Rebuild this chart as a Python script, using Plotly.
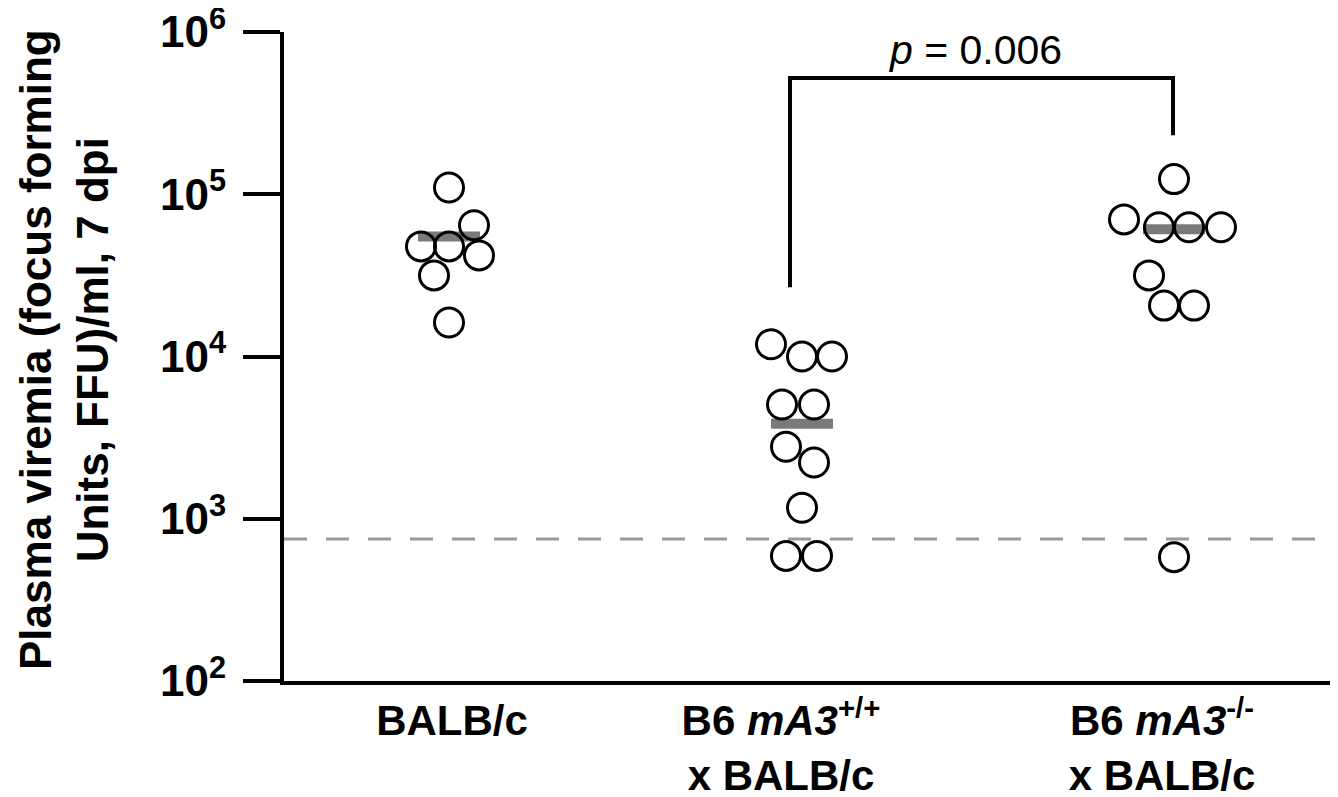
import plotly.graph_objects as go

# ---- data ----
groups = ["BALB/c", "B6 mA3+/+ x BALB/c", "B6 mA3-/- x BALB/c"]
tick_labels = [
    "BALB/c",
    "B6 <i>mA3</i><sup>+/+</sup><br>x BALB/c",
    "B6 <i>mA3</i><sup>-/-</sup><br>x BALB/c",
]
group_pos = [165, 518, 890]      # x position of each group's points (axis units)
label_pos = [168, 497, 878]      # x position of each group's label

balb_vals = [110000, 64400, 47700, 47700, 42000, 31600, 16200]
balb_jit = [0, 25, -28, 0, 30, -15, 0]

wt_vals = [11900, 10000, 10000, 5060, 5060, 2780, 2220, 1170, 590, 590]
wt_jit = [-31, 0, 30, -20, 12, -16, 12, 0, -16, 15]

ko_vals = [124000, 70000, 62600, 62600, 62600, 31600, 20600, 20600, 580]
ko_jit = [0, -50, -15, 15, 47, -25, -10, 20, 0]

medians = [55000, 3850, 60800]
detection_limit = 750

y_tickvals = [1e2, 1e3, 1e4, 1e5, 1e6]
y_ticktext = ["10<sup>2</sup>", "10<sup>3</sup>", "10<sup>4</sup>", "10<sup>5</sup>", "10<sup>6</sup>"]

p_text = "<i>p</i> = 0.006"
bracket_y_low_left = 26700
bracket_y_top = 520000
bracket_y_low_right = 231000

FONT = "Liberation Sans, Arial, Helvetica, sans-serif"

fig = go.Figure()

# detection limit dashed line
fig.add_trace(go.Scatter(
    x=[0, 1050], y=[detection_limit, detection_limit], mode="lines",
    line=dict(color="#9a9a9a", width=3, dash="23px,19px"),
    hoverinfo="skip", showlegend=False))

# median bars
half_w = 31
for gx, m in zip(group_pos, medians):
    fig.add_trace(go.Scatter(
        x=[gx - half_w, gx + half_w], y=[m, m], mode="lines",
        line=dict(color="#7a7a7a", width=10),
        hoverinfo="skip", showlegend=False))

# points
for gx, vals, jit in zip(group_pos, [balb_vals, wt_vals, ko_vals], [balb_jit, wt_jit, ko_jit]):
    fig.add_trace(go.Scatter(
        x=[gx + j for j in jit], y=vals, mode="markers",
        marker=dict(symbol="circle-open", size=29, color="black",
                    line=dict(width=3, color="black")),
        cliponaxis=False, showlegend=False))

# significance bracket
bx_left = group_pos[1] - 12
bx_right = group_pos[2] - 1
fig.add_trace(go.Scatter(
    x=[bx_left, bx_left, bx_right, bx_right],
    y=[bracket_y_low_left, bracket_y_top, bracket_y_top, bracket_y_low_right],
    mode="lines", line=dict(color="black", width=4),
    hoverinfo="skip", showlegend=False))

fig.add_annotation(
    x=(bx_left + bx_right) / 2 - 7, y=5.89, xref="x", yref="y",
    text=p_text, showarrow=False,
    font=dict(family=FONT, size=41, color="black"),
    xanchor="center", yanchor="middle")

# y-axis title
fig.add_annotation(
    xref="paper", yref="paper", x=0, y=0.51, xshift=-220,
    text="<b>Plasma viremia (focus forming<br>Units, FFU)/ml, 7 dpi</b>",
    textangle=-90, showarrow=False,
    font=dict(family=FONT, size=44, color="black"),
    xanchor="center", yanchor="middle")

fig.update_layout(
    width=1338, height=797,
    margin=dict(l=276, r=12, t=24, b=124, autoexpand=False),
    plot_bgcolor="white", paper_bgcolor="white",
    font=dict(family=FONT, color="black"),
    showlegend=False,
    xaxis=dict(
        range=[0, 1050], showgrid=False, zeroline=False, automargin=False,
        showline=True, linecolor="black", linewidth=4,
        ticks="", tickvals=label_pos, ticktext=tick_labels,
        tickfont=dict(family=FONT, size=42, color="black", weight="bold"),
    ),
    yaxis=dict(
        type="log", range=[2, 6], showgrid=False, zeroline=False, automargin=False,
        showline=True, linecolor="black", linewidth=4,
        ticks="outside", ticklen=37, tickwidth=4, tickcolor="black",
        tickvals=y_tickvals, ticktext=y_ticktext,
        ticklabeloverflow="allow", ticklabelstandoff=8,
        tickfont=dict(family=FONT, size=44, color="black", weight="bold"),
    ),
)

fig.write_html("out.html")
